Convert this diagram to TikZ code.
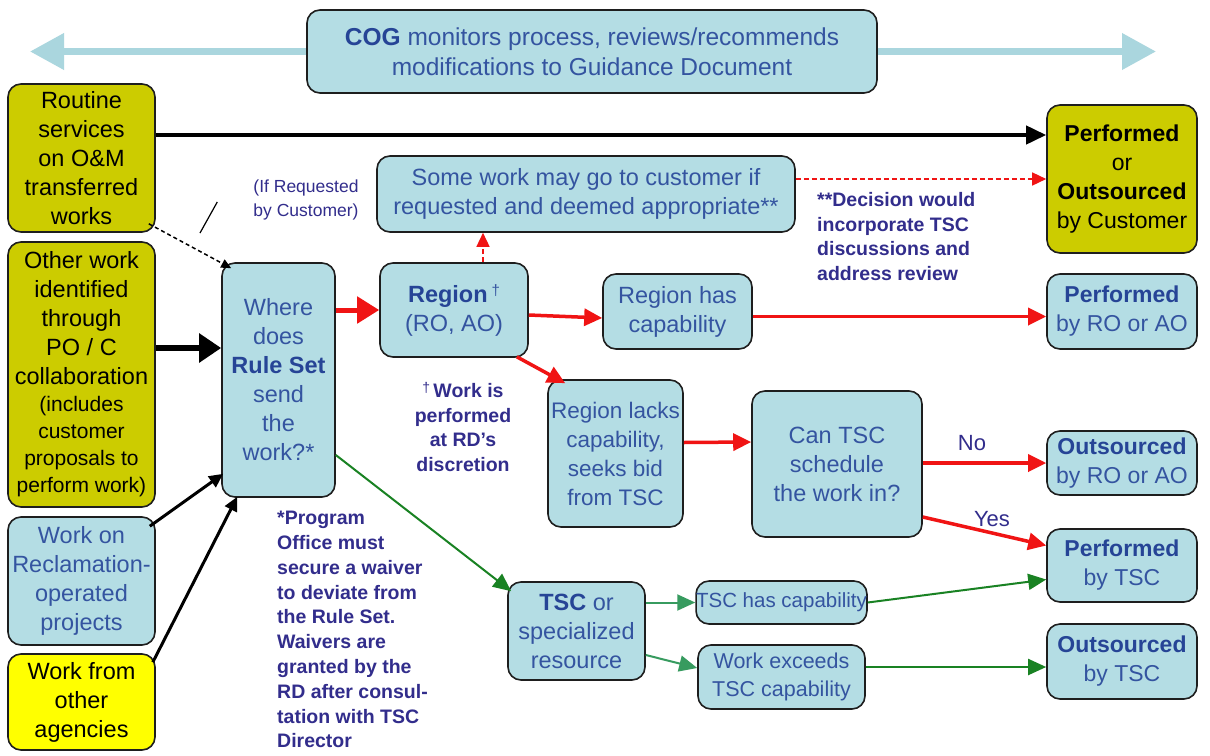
\documentclass[tikz,border=0pt]{standalone}
\usepackage{fontspec}
\setmainfont{Liberation Sans}
\usetikzlibrary{arrows.meta}
\definecolor{lblue}{RGB}{180,221,228}
\definecolor{arrblue}{RGB}{170,214,222}
\definecolor{olivey}{RGB}{204,204,0}
\definecolor{brighty}{RGB}{255,255,0}
\definecolor{txtblue}{RGB}{52,84,160}
\definecolor{titleblue}{RGB}{38,68,150}
\definecolor{notecol}{RGB}{50,45,140}
\definecolor{redc}{RGB}{240,20,20}
\definecolor{greenc}{RGB}{25,130,35}
\definecolor{seagreen}{RGB}{55,155,95}
\definecolor{boxline}{RGB}{30,30,30}
\newcommand{\smtxt}[1]{{\fontsize{21}{27}\selectfont #1}}
\tikzset{
  box/.style={draw=boxline, line width=1.6pt, rounded corners=13pt, inner sep=0pt, align=center,
    font=\fontsize{23.5}{29}\selectfont},
  bluebox/.style={box, fill=lblue, text=txtblue},
  olivebox/.style={box, fill=olivey, text=black},
  yelbox/.style={box, fill=brighty, text=black},
  note/.style={inner sep=0pt, text=notecol, font=\bfseries\fontsize{19.5}{24.8}\selectfont},
  cogarr/.style={draw=arrblue, line width=7pt, -{Triangle[length=34pt,width=35pt]}},
  blkarr/.style={draw=black, line width=4pt, -{Triangle[length=20pt,width=18pt]}},
  blkthin/.style={draw=black, line width=3pt, -{Triangle[length=14pt,width=13pt]}},
  bigblk/.style={draw=black, line width=6pt, -{Triangle[length=22pt,width=28pt]}},
  redarr/.style={draw=redc, line width=3.5pt, -{Triangle[length=18pt,width=17pt]}},
  bigred/.style={draw=redc, line width=5pt, -{Triangle[length=22pt,width=26pt]}},
  reddash/.style={draw=redc, line width=1.5pt, dash pattern=on 5pt off 3pt, -{Triangle[length=14pt,width=13pt]}},
  greenarr/.style={draw=greenc, line width=2pt, -{Triangle[length=18pt,width=16pt]}},
  seaarr/.style={draw=seagreen, line width=2pt, -{Triangle[length=18pt,width=16pt]}},
}
\begin{document}
\begin{tikzpicture}[x=1pt,y=-1pt]
\fill[white] (0,0) rectangle (1210,755);
\useasboundingbox (0,0) rectangle (1210,755);

% COG
\node[bluebox, minimum width=570pt, minimum height=83pt, font=\fontsize{24.5}{30}\selectfont] (cog) at (592,51.5)
  {{\color{titleblue}\bfseries COG} monitors process, reviews/recommends\\modifications to Guidance Document};
\coordinate (cogL) at (30,51.5);
\coordinate (cogR) at (1156,51.5);
\draw[cogarr] (cog.west) -- (cogL);
\draw[cogarr] (cog.east) -- (cogR);

% left column
\node[olivebox, minimum width=147pt, minimum height=148pt] (routine) at (81.5,158)
  {Routine\\services\\on O\&M\\transferred\\works};
\node[olivebox, minimum width=147pt, minimum height=265pt] (other) at (81.5,374.5)
  {Other work\\identified\\through\\PO / C\\collaboration\\[-2pt]\smtxt{(includes}\\[-2pt]\smtxt{customer}\\[-2pt]\smtxt{proposals to}\\[-2pt]\smtxt{perform work)}};
\node[bluebox, minimum width=147pt, minimum height=128pt] (recl) at (81.5,581)
  {Work on\\Reclamation-\\operated\\projects};
\node[yelbox, minimum width=147pt, minimum height=96pt] (agencies) at (81.5,702)
  {Work from\\other\\agencies};

% rule set
\node[bluebox, minimum width=113pt, minimum height=234pt] (rule) at (278.5,380)
  {Where\\does\\{\color{titleblue}\bfseries Rule Set}\\send\\the\\work?*};

% region
\node[bluebox, minimum width=148pt, minimum height=94pt] (region) at (454,310)
  {{\color{titleblue}\bfseries Region}\,{\fontsize{15}{15}\selectfont\raisebox{7pt}{†}}\\(RO, AO)};
\node[bluebox, minimum width=418pt, minimum height=76pt] (somework) at (586,194)
  {Some work may go to customer if\\requested and deemed appropriate**};
\node[olivebox, minimum width=150pt, minimum height=148pt, font=\fontsize{23}{29}\selectfont] (percust) at (1122,179)
  {\textbf{Performed}\\or\\\textbf{Outsourced}\\by Customer};

\node[bluebox, minimum width=149pt, minimum height=75pt] (reghas) at (677.5,311.5)
  {Region has\\capability};
\node[bluebox, minimum width=150pt, minimum height=75pt, font=\fontsize{23}{29}\selectfont] (perfro) at (1122,311.5)
  {{\color{titleblue}\bfseries Performed}\\by RO or AO};
\node[bluebox, minimum width=135pt, minimum height=147pt, font=\fontsize{22.5}{29}\selectfont] (reglack) at (615.5,453.5)
  {Region lacks\\capability,\\seeks bid\\from TSC};
\node[bluebox, minimum width=170pt, minimum height=146pt] (cantsc) at (837,464)
  {Can TSC\\schedule\\the work in?};
\node[bluebox, minimum width=150pt, minimum height=64pt, font=\fontsize{23}{29}\selectfont] (outro) at (1122,463)
  {{\color{titleblue}\bfseries Outsourced}\\by RO or AO};
\node[bluebox, minimum width=150pt, minimum height=73pt, font=\fontsize{23}{29}\selectfont] (perftsc) at (1122,565.5)
  {{\color{titleblue}\bfseries Performed}\\by TSC};
\node[bluebox, minimum width=137pt, minimum height=98pt] (tsc) at (576.5,631)
  {{\color{titleblue}\bfseries TSC} or\\specialized\\resource};
\node[bluebox, minimum width=167pt, minimum height=43pt, font=\fontsize{20.5}{28}\selectfont] (tschas) at (781.5,602.5)
  {TSC has capability};
\node[bluebox, minimum width=167pt, minimum height=64pt, font=\fontsize{21.5}{28}\selectfont] (exceeds) at (781.5,677)
  {Work exceeds\\TSC capability};
\node[bluebox, minimum width=150pt, minimum height=75pt, font=\fontsize{23}{29}\selectfont] (outtsc) at (1122,661.5)
  {{\color{titleblue}\bfseries Outsourced}\\by TSC};

% notes
\node[inner sep=0pt, text=notecol, align=center, font=\fontsize{17.5}{24}\selectfont] (ifreq) at (306,200)
  {(If Requested\\by Customer)};
\node[note, align=left, anchor=north west] (decnote) at (817,192)
  {**Decision would\\incorporate TSC\\discussions and\\address review};
\node[note, align=center] (dagnote) at (463,427)
  {{\mdseries\fontsize{14}{14}\selectfont\raisebox{5pt}{†}}\,Work is\\performed\\at RD’s\\discretion};
\node[note, align=left, anchor=north west] (prognote) at (277,511)
  {*Program\\Office must\\secure a waiver\\to deviate from\\the Rule Set.\\Waivers are\\granted by the\\RD after consul-\\tation with TSC\\Director};
\node[inner sep=0pt, text=notecol, font=\fontsize{22}{24}\selectfont] (nolbl) at (972,443) {No};
\node[inner sep=0pt, text=notecol, font=\fontsize{22}{24}\selectfont] (yeslbl) at (992,519) {Yes};

% connectors
\draw[blkarr] ([yshift=23pt]routine.east) -- ([yshift=44pt]percust.west);
\draw[reddash] ([yshift=15pt]somework.east) -- (percust.west);
\draw[reddash] ([xshift=29pt]region.north) -- ([xshift=-103pt]somework.south);
\draw[bigblk] ([yshift=26.5pt]other.east) -- ([yshift=32pt]rule.west);
\draw[blkthin] ([xshift=-6pt,yshift=-10pt]recl.north east) -- ([xshift=2pt,yshift=24pt]rule.south west);
\draw[blkthin] ([xshift=-3pt,yshift=-9pt]agencies.north east) -- ([xshift=16pt,yshift=1pt]rule.south west);
\draw[line width=1.5pt, dash pattern=on 4pt off 3pt, -{Triangle[length=10pt,width=9pt]}]
  ([xshift=-7pt,yshift=9pt]routine.south east) -- ([xshift=10pt,yshift=-6pt]rule.north west);
\coordinate (callout) at (200,233);
\draw[line width=1.2pt] (callout) -- ([xshift=-36pt,yshift=-2pt]ifreq.west);
\draw[bigred] (rule.east |- region.west) -- (region.west);
\draw[redarr] ([yshift=-5pt]region.east) -- ([yshift=-6.5pt]reghas.west);
\draw[redarr] ([xshift=-12pt,yshift=1pt]region.south east) -- ([xshift=18pt,yshift=-4pt]reglack.north west);
\draw[redarr] ([yshift=-5pt]reghas.east) -- ([yshift=-5pt]perfro.west);
\draw[redarr] ([yshift=11pt]reglack.east) -- ([yshift=22pt]cantsc.west);
\draw[redarr] (cantsc.east |- outro.west) -- (outro.west);
\draw[redarr] ([yshift=-53pt]cantsc.east) -- ([yshift=20pt]perftsc.west);
\draw[greenarr] ([yshift=-75pt]rule.east) -- ([xshift=4pt,yshift=-10pt]tsc.north west);
\draw[seaarr] (tsc.east |- tschas.west) -- (tschas.west);
\draw[seaarr] ([yshift=-24pt]tsc.east) -- ([yshift=9pt]exceeds.west);
\draw[greenarr] (tschas.east) -- ([yshift=-14pt]perftsc.west);
\draw[greenarr] ([yshift=10pt]exceeds.east) -- ([yshift=-5.5pt]outtsc.west);
\end{tikzpicture}
\end{document}
